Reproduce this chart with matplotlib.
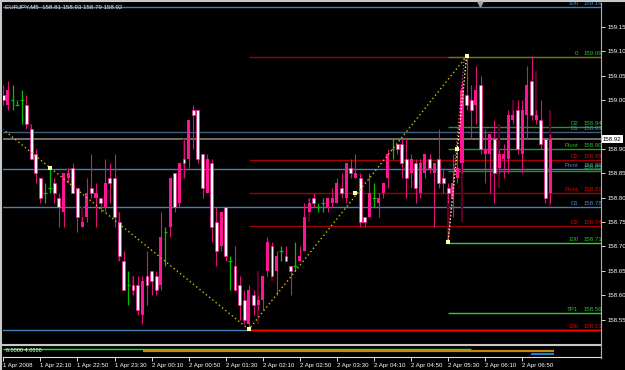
import matplotlib
matplotlib.use("Agg")
import matplotlib.pyplot as plt
from matplotlib.lines import Line2D
from matplotlib import font_manager

W, H = 625, 370

# ---- data (EURJPY M5) ----
opens = [159.01, 158.99, 159.00, 158.99, 159.00, 158.99, 158.94, 158.89, 158.84, 158.81,
         158.82, 158.83, 158.80, 158.77, 158.84, 158.86, 158.82, 158.74, 158.76, 158.82,
         158.80, 158.80, 158.78, 158.84, 158.84, 158.75, 158.67, 158.62, 158.62, 158.62,
         158.56, 158.64, 158.65, 158.64, 158.62, 158.73, 158.74, 158.85, 158.79, 158.88,
         158.88, 158.98, 158.98, 158.89, 158.81, 158.87, 158.75, 158.70, 158.78, 158.67,
         158.66, 158.62, 158.59, 158.54, 158.60, 158.58, 158.59, 158.65, 158.70, 158.65,
         158.69, 158.68, 158.66, 158.66, 158.67, 158.69, 158.77, 158.80, 158.78, 158.79,
         158.78, 158.79, 158.79, 158.82, 158.80, 158.86, 158.84, 158.84, 158.76, 158.76,
         158.80, 158.79, 158.81, 158.84, 158.90, 158.91, 158.91, 158.88, 158.85, 158.87,
         158.81, 158.85, 158.88, 158.85, 158.88, 158.84, 158.82, 158.80, 158.84, 158.87,
         159.01, 159.00, 158.99, 159.03, 158.89, 158.89, 158.92, 158.86, 158.88, 158.88,
         158.96, 158.98, 158.89, 158.97, 159.04, 158.96, 158.96, 158.92, 158.81]
highs = [159.03, 159.04, 159.03, 159.00, 159.02, 159.01, 158.95, 158.90, 158.84, 158.83,
         158.86, 158.84, 158.81, 158.85, 158.86, 158.87, 158.82, 158.76, 158.84, 158.89,
         158.83, 158.80, 158.88, 158.87, 158.89, 158.77, 158.69, 158.65, 158.64, 158.64,
         158.64, 158.69, 158.65, 158.65, 158.77, 158.74, 158.84, 158.85, 158.87, 158.92,
         158.96, 158.99, 158.98, 158.89, 158.89, 158.88, 158.78, 158.77, 158.78, 158.68,
         158.70, 158.64, 158.61, 158.62, 158.61, 158.60, 158.64, 158.72, 158.71, 158.69,
         158.70, 158.70, 158.66, 158.71, 158.70, 158.79, 158.80, 158.81, 158.79, 158.80,
         158.80, 158.82, 158.84, 158.85, 158.87, 158.88, 158.89, 158.85, 158.76, 158.85,
         158.83, 158.81, 158.83, 158.90, 158.92, 158.91, 158.92, 158.92, 158.89, 158.88,
         158.88, 158.89, 158.89, 158.87, 158.94, 158.86, 158.83, 158.89, 158.91, 159.04,
         159.09, 159.03, 159.07, 159.05, 158.94, 158.93, 158.96, 158.90, 158.91, 158.98,
         158.98, 159.00, 159.00, 159.07, 159.09, 158.98, 159.00, 158.92, 158.93]
lows = [158.99, 158.98, 158.98, 158.99, 158.95, 158.94, 158.88, 158.83, 158.79, 158.79,
        158.81, 158.79, 158.74, 158.74, 158.83, 158.81, 158.73, 158.74, 158.75, 158.80,
        158.74, 158.77, 158.77, 158.79, 158.74, 158.67, 158.61, 158.58, 158.60, 158.56,
        158.54, 158.58, 158.60, 158.60, 158.61, 158.66, 158.72, 158.77, 158.78, 158.84,
        158.86, 158.90, 158.87, 158.80, 158.81, 158.71, 158.66, 158.69, 158.67, 158.61,
        158.61, 158.55, 158.54, 158.53, 158.56, 158.57, 158.57, 158.64, 158.64, 158.60,
        158.67, 158.67, 158.60, 158.65, 158.67, 158.69, 158.77, 158.78, 158.77, 158.77,
        158.77, 158.78, 158.79, 158.80, 158.79, 158.84, 158.84, 158.74, 158.74, 158.76,
        158.78, 158.76, 158.80, 158.82, 158.88, 158.89, 158.84, 158.80, 158.82, 158.79,
        158.80, 158.84, 158.85, 158.74, 158.82, 158.81, 158.79, 158.76, 158.83, 158.85,
        158.98, 158.92, 158.95, 158.89, 158.83, 158.81, 158.79, 158.85, 158.84, 158.85,
        158.95, 158.89, 158.85, 158.92, 158.96, 158.95, 158.90, 158.79, 158.79]
closes = [159.00, 159.02, 159.00, 158.99, 159.00, 158.95, 158.88, 158.85, 158.80, 158.81,
          158.82, 158.81, 158.78, 158.85, 158.85, 158.81, 158.76, 158.75, 158.81, 158.81,
          158.81, 158.79, 158.83, 158.83, 158.76, 158.68, 158.61, 158.62, 158.61, 158.57,
          158.63, 158.62, 158.63, 158.61, 158.72, 158.73, 158.84, 158.78, 158.87, 158.87,
          158.96, 158.97, 158.88, 158.82, 158.88, 158.74, 158.69, 158.77, 158.68, 158.67,
          158.61, 158.58, 158.55, 158.61, 158.58, 158.59, 158.64, 158.71, 158.64, 158.68,
          158.69, 158.67, 158.65, 158.66, 158.68, 158.76, 158.79, 158.79, 158.78, 158.79,
          158.80, 158.80, 158.83, 158.81, 158.87, 158.85, 158.85, 158.75, 158.75, 158.81,
          158.80, 158.80, 158.83, 158.89, 158.90, 158.90, 158.87, 158.84, 158.88, 158.82,
          158.87, 158.89, 158.86, 158.87, 158.83, 158.83, 158.81, 158.83, 158.86, 159.02,
          158.99, 158.98, 159.02, 158.90, 158.90, 158.93, 158.85, 158.89, 158.89, 158.97,
          158.97, 158.90, 158.98, 159.03, 158.97, 158.97, 158.91, 158.80, 158.92]

# dark shadow bars seen behind some candles
shade_idx = [6, 14, 17, 25, 28, 39, 55, 58, 66, 96, 99, 107, 110, 115, 118]
shade_hi = [158.95, 158.86, 158.78, 158.77, 158.64, 158.92, 158.65, 158.64, 158.80, 158.81,
            158.87, 158.95, 159.00, 159.06, 158.98]
shade_lo = [158.94, 158.83, 158.74, 158.67, 158.60, 158.84, 158.54, 158.63, 158.75, 158.71,
            158.75, 158.82, 158.96, 158.96, 158.78]

current_price = 158.92
title = "EURJPY,M5  158.81 158.93 158.79 158.92"

time_ticks = [0, 8, 16, 24, 32, 40, 48, 56, 64, 72, 80, 88, 96, 104, 112]
time_labels = ["1 Apr 2008", "1 Apr 22:10", "1 Apr 22:50", "1 Apr 23:30", "2 Apr 00:10",
               "2 Apr 00:50", "2 Apr 01:30", "2 Apr 02:10", "2 Apr 02:50", "2 Apr 03:30",
               "2 Apr 04:10", "2 Apr 04:50", "2 Apr 05:30", "2 Apr 06:10", "2 Apr 06:50"]
price_ticks = [159.15, 159.10, 159.05, 159.00, 158.90, 158.85, 158.80,
               158.75, 158.70, 158.65, 158.60, 158.55]

# horizontal levels (three sets) and where they start
blue_names = ["100", "D1", "Pivot", "D1", ""]
blue_levels = [159.190, 158.934, 158.858, 158.780, 158.529]
red_names = ["", "D2", "Pivot", "D2", "100"]
red_levels = [159.089, 158.877, 158.809, 158.742, 158.529]
red_start = 53
green_names = ["0", "D2", "Pivot", "", "100", "TP1"]
green_levels = [159.089, 158.944, 158.899, 158.855, 158.708, 158.563]
green_start = 96

# zigzag / fibo anchors
zz_x = [-1, 53, 100]
zz_y = [158.947, 158.53, 159.09]
fib_x = [100, 96]
fib_y = [159.09, 158.71]
mark_x = [10, 53, 76, 96, 98, 100]
mark_y = [158.86, 158.53, 158.81, 158.71, 158.90, 159.09]

# lower indicator panel
ind_text = "6.0000 4.0000"
ind_levels = [6.0, 4.0, 2.0]
ind_from = [-0.1, 30.2, 113.9]
ind_to = [100.9, 118.9, 118.9]


def pick_font(names):
    have = {f.name for f in font_manager.fontManager.ttflist}
    for n in names:
        if n in have:
            return n
    return "DejaVu Sans"

FONT = pick_font(["Liberation Sans Narrow", "DejaVu Sans Condensed", "Liberation Sans"])
FS = 5.2 if FONT != "Liberation Sans" else 4.4
plt.rcParams["font.family"] = [FONT, "DejaVu Sans"]


def fx(px):
    return px / W


def fy(py):
    return 1 - py / H


fig = plt.figure(figsize=(W / 100, H / 100), dpi=100, facecolor="black")

# main price panel
ax = fig.add_axes([fx(3), fy(343), fx(601) - fx(3), fy(3) - fy(343)], facecolor="black")
ax.set_xlim(-0.07, 129.0)
ax.set_ylim(158.502, 159.199)
for s in ax.spines.values():
    s.set_visible(False)

# levels
ax.axhline(current_price, color="#6e6e6e", lw=1.4, zorder=1)
for name, p in zip(blue_names, blue_levels):
    c = "#3f5f7f" if name == "D1" and p > 158.9 else "#4a7db3"
    ax.axhline(p, color=c, lw=1.0, zorder=1)
for p in red_levels:
    c = "#ff0000" if p < 158.6 else "#a00000"
    ax.hlines(p, red_start, 129, color=c, lw=1.0, zorder=1)
for p in green_levels:
    c = "#33cc33" if p < 158.72 else "#23962a"
    ax.hlines(p, green_start, 129, color=c, lw=1.0, zorder=1)

def level_label(name, p, col):
    if name:
        ax.text(124.1, p + 0.002, name, color=col, fontsize=FS, ha="right", va="bottom", zorder=6)
    ax.text(125.3, p + 0.002, f"{p:.2f}", color=col, fontsize=FS, ha="left", va="bottom", zorder=6)

for name, p in zip(blue_names, blue_levels):
    if name:
        level_label(name, p, "#4f86c0")
for name, p in zip(red_names, red_levels):
    if name:
        level_label(name, p, "#e00000")
for name, p in zip(green_names, green_levels):
    level_label(name, p, "#2fbf2f")

# shadow bars
ax.vlines(shade_idx, shade_lo, shade_hi, color="#5c0028", lw=1.6, zorder=2)

# candles
for i, (o, h, l, c) in enumerate(zip(opens, highs, lows, closes)):
    if o == c:
        ax.vlines(i, l, h, color="#00c000", lw=0.9, zorder=3)
        ax.hlines(o, i - 0.4, i + 0.4, color="#00c000", lw=0.9, zorder=3)
        continue
    ax.vlines(i, l, h, color="#e0107a", lw=0.8, zorder=3)
    if c > o:
        ax.bar(i, c - o, bottom=o, width=0.66, color="#ff1493", lw=0, zorder=4)
    else:
        ax.bar(i, o - c, bottom=c, width=0.62, color="white", edgecolor="#ff1493", lw=0.5, zorder=4)

# zigzag and fibo lines
ax.plot(zz_x, zz_y, color="#c4c400", lw=1.0, ls=(0, (1, 2)), zorder=5)
ax.plot(fib_x, fib_y, color="#ffff70", lw=1.0, ls=(0, (1, 1.5)), zorder=5)
ax.plot([fib_x[0] - 0.5, fib_x[1]], fib_y, color="#ff60a0", lw=0.8, ls=(1, (1, 2)), zorder=5)
ax.scatter(mark_x, mark_y, s=5, marker="s", color="#ffffb0", zorder=6, lw=0)

# right price scale
ax.yaxis.tick_right()
ax.set_yticks(price_ticks)
ax.set_yticklabels([f"{p:.2f}" for p in price_ticks])
ax.tick_params(axis="y", colors="white", length=3, width=0.6, pad=1.5, labelsize=FS)
ax.set_xticks([])

# lower indicator panel
ax2 = fig.add_axes([fx(3), fy(357), fx(601) - fx(3), fy(346.5) - fy(357)], facecolor="black")
ax2.set_xlim(ax.get_xlim())
ax2.set_ylim(-1.4, 8.8)
for s in ax2.spines.values():
    s.set_visible(False)
ind_colors = ["#00ff00", "#c8870f", "#1ea0ff"]
ind_widths = [1.0, 1.6, 1.2]
for lv, a, b, c, w in zip(ind_levels, ind_from, ind_to, ind_colors, ind_widths):
    ax2.hlines(lv, a, b, color=c, lw=w)
ax2.text(0.6, 5.2, ind_text, color="white", fontsize=FS * 0.9, ha="left", va="center")
ax2.set_yticks([])
ax2.set_xticks(time_ticks)
ax2.set_xticklabels(time_labels, ha="left")
ax2.tick_params(axis="x", colors="white", length=3, width=0.6, pad=1, labelsize=FS)

# frame lines
fig.add_artist(Line2D([fx(1), fx(1)], [fy(0), fy(370)], color="#c8c8c8", lw=1.5))
fig.add_artist(Line2D([fx(0), fx(625)], [fy(1), fy(1)], color="#c8c8c8", lw=1.5))
fig.add_artist(Line2D([fx(3), fx(601)], [fy(345.3), fy(345.3)], color="#c8c8c8", lw=1.5))
fig.add_artist(Line2D([fx(3), fx(601)], [fy(357.3), fy(357.3)], color="#e0e0e0", lw=0.8))
fig.add_artist(Line2D([fx(601), fx(601)], [fy(3), fy(357.5)], color="#b0b0b0", lw=0.8))
fig.add_artist(Line2D([fx(480)], [fy(4)], marker="v", color="#a0a0a0", ms=3.5, lw=0))

fig.text(fx(5), fy(7), title, color="#e8e8e8", fontsize=FS, ha="left", va="center")
ax.text(1.003, current_price, f"{current_price:.2f}", transform=ax.get_yaxis_transform(),
        color="black", fontsize=FS, ha="left", va="center", zorder=10,
        bbox=dict(boxstyle="square,pad=0.25", fc="white", ec="none"))

fig.savefig("out.png", dpi=100, facecolor="black")
